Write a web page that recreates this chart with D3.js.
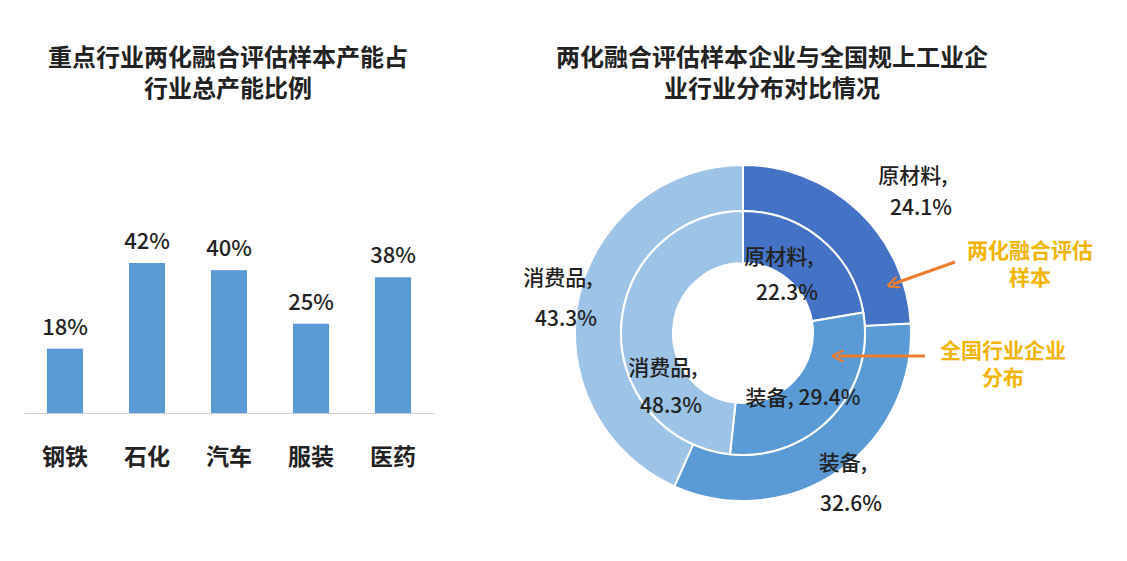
<!DOCTYPE html>
<meta charset="utf-8">
<title>两化融合</title>
<style>
body { margin: 0; background: #fff; font-family: "Noto Sans CJK SC", "Noto Sans", sans-serif; }
text { font-family: "Noto Sans CJK SC", "Noto Sans", sans-serif; }
</style>
<script src="https://cdn.jsdelivr.net/npm/d3@7/dist/d3.min.js"></script>
<body>
<svg id="chart" width="1127" height="561"></svg>
<script>
var barCategories = ['钢铁', '石化', '汽车', '服装', '医药'];
var barValues = [18, 42, 40, 25, 38];

var ringCategories = ['原材料', '装备', '消费品'];
var sampleValues = [24.1, 32.6, 43.3];   // outer ring
var nationValues = [22.3, 29.4, 48.3];   // inner ring
var ringColors = ['#4472c4', '#5b9bd5', '#9dc3e6'];

var svg = d3.select('#chart');

// left title
svg.append('text').attr('x', 228).attr('y', 66).attr('text-anchor', 'middle')
    .attr('font-size', 24).attr('font-weight', 'bold').attr('fill', '#222').text('重点行业两化融合评估样本产能占');
svg.append('text').attr('x', 228).attr('y', 97).attr('text-anchor', 'middle')
    .attr('font-size', 24).attr('font-weight', 'bold').attr('fill', '#222').text('行业总产能比例');

var x = d3.scaleBand().domain(barCategories).range([24, 434]).paddingInner(0.56).paddingOuter(0.28);
var y = d3.scaleLinear().domain([0, 42]).range([413, 263]);

svg.selectAll('rect.bar').data(barValues).enter().append('rect')
    .attr('class', 'bar')
    .attr('x', function(d, i) { return x(barCategories[i]); })
    .attr('y', function(d) { return y(d); })
    .attr('width', x.bandwidth())
    .attr('height', function(d) { return y(0) - y(d); })
    .attr('fill', '#5b9bd5');

svg.selectAll('text.val').data(barValues).enter().append('text')
    .attr('x', function(d, i) { return x(barCategories[i]) + x.bandwidth() / 2; })
    .attr('y', function(d) { return y(d) - 14; })
    .attr('text-anchor', 'middle').attr('font-size', 22).attr('font-weight', 500).attr('fill', '#222')
    .text(function(d) { return d + '%'; });

var axis = svg.append('g').attr('transform', 'translate(0,413)')
    .call(d3.axisBottom(x).tickSize(0).tickPadding(36));
axis.select('.domain').attr('stroke', '#d0d0d0');
axis.selectAll('text').attr('font-size', 23).attr('font-weight', 'bold').attr('fill', '#222');

// right title
svg.append('text').attr('x', 772).attr('y', 66).attr('text-anchor', 'middle')
    .attr('font-size', 24).attr('font-weight', 'bold').attr('fill', '#222').text('两化融合评估样本企业与全国规上工业企');
svg.append('text').attr('x', 772).attr('y', 97).attr('text-anchor', 'middle')
    .attr('font-size', 24).attr('font-weight', 'bold').attr('fill', '#222').text('业行业分布对比情况');

var cx = 743, cy = 333;
var pie = d3.pie().sort(null);
var g = svg.append('g').attr('transform', 'translate(' + cx + ',' + cy + ')');

var outerArc = d3.arc().innerRadius(122).outerRadius(168);
var innerArc = d3.arc().innerRadius(70).outerRadius(122);

g.selectAll('path.outer').data(pie(sampleValues)).enter().append('path')
    .attr('d', outerArc).attr('fill', function(d, i) { return ringColors[i]; })
    .attr('stroke', '#fff').attr('stroke-width', 2);
g.selectAll('path.inner').data(pie(nationValues)).enter().append('path')
    .attr('d', innerArc).attr('fill', function(d, i) { return ringColors[i]; })
    .attr('stroke', '#fff').attr('stroke-width', 2);

// labels
var outerLabels = [[170, 183, 215], [100, 470, 511], [-185, 285, 326]];
var innerLabels = [[36, 264, 300], [60, 405, null], [-80, 375, 413]];
function label(pos, name, val) {
    var t = svg.append('text').attr('font-size', 21).attr('font-weight', 500).attr('fill', '#222').attr('text-anchor', 'middle');
    if (pos[2] === null) {
        t.attr('x', cx + pos[0]).attr('y', pos[1]).text(name + ', ' + val + '%');
    } else {
        t.append('tspan').attr('x', cx + pos[0]).attr('y', pos[1]).text(name + ',');
        t.append('tspan').attr('x', cx + pos[0] + 8).attr('y', pos[2]).text(val + '%');
    }
}
ringCategories.forEach(function(c, i) {
    label(outerLabels[i], c, sampleValues[i]);
    label(innerLabels[i], c, nationValues[i]);
});

// annotations
svg.append('defs').append('marker').attr('id', 'arr').attr('viewBox', '0 0 10 10')
    .attr('refX', 5).attr('refY', 5).attr('markerWidth', 4).attr('markerHeight', 4).attr('orient', 'auto')
    .append('path').attr('d', 'M0,0 L10,5 L0,10').attr('fill', 'none').attr('stroke', '#ed7d31').attr('stroke-width', 2);
svg.append('line').attr('x1', 955).attr('y1', 262).attr('x2', 893).attr('y2', 284)
    .attr('stroke', '#ed7d31').attr('stroke-width', 3).attr('marker-end', 'url(#arr)');
svg.append('line').attr('x1', 925).attr('y1', 356).attr('x2', 838).attr('y2', 356)
    .attr('stroke', '#ed7d31').attr('stroke-width', 3).attr('marker-end', 'url(#arr)');

var gold = '#f2b400';
svg.append('text').attr('x', 1030).attr('y', 258).attr('text-anchor', 'middle').attr('font-size', 21)
    .attr('font-weight', 'bold').attr('fill', gold).text('两化融合评估');
svg.append('text').attr('x', 1030).attr('y', 285).attr('text-anchor', 'middle').attr('font-size', 21)
    .attr('font-weight', 'bold').attr('fill', gold).text('样本');
svg.append('text').attr('x', 1003).attr('y', 358).attr('text-anchor', 'middle').attr('font-size', 21)
    .attr('font-weight', 'bold').attr('fill', gold).text('全国行业企业');
svg.append('text').attr('x', 1003).attr('y', 385).attr('text-anchor', 'middle').attr('font-size', 21)
    .attr('font-weight', 'bold').attr('fill', gold).text('分布');
</script>
</body>
